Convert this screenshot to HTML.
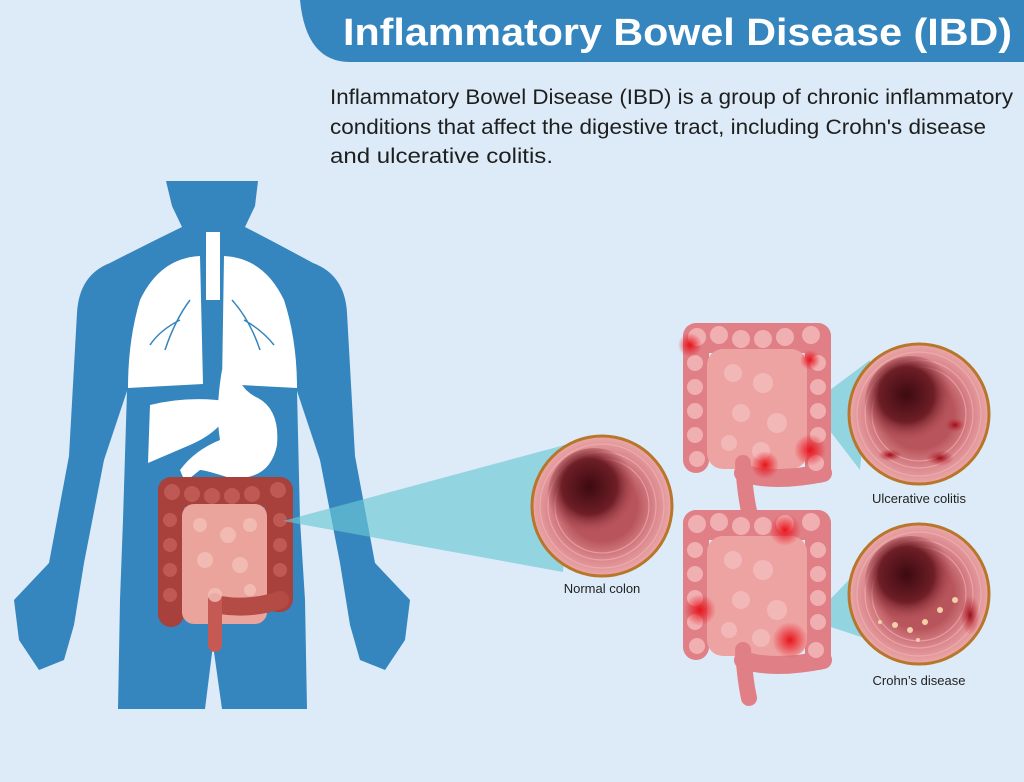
<!DOCTYPE html>
<html><head><meta charset="utf-8"><style>
html,body{margin:0;padding:0;background:#dcebf7;}
svg{display:block}
</style></head><body>
<svg width="1024" height="782" viewBox="0 0 1024 782" xmlns="http://www.w3.org/2000/svg">
<defs>
<radialGradient id="wall" cx="0.5" cy="0.5" r="0.5">
<stop offset="0.5" stop-color="#b8555c"/><stop offset="0.75" stop-color="#d9848a"/><stop offset="1" stop-color="#eba8a8"/></radialGradient>
<radialGradient id="lumen" cx="0.45" cy="0.42" r="0.5">
<stop offset="0" stop-color="#3d0a10"/><stop offset="0.6" stop-color="#6e1e26"/><stop offset="1" stop-color="#a9464f" stop-opacity="0"/></radialGradient>
<radialGradient id="ulc" cx="0.5" cy="0.5" r="0.5"><stop offset="0" stop-color="#9b0d18"/><stop offset="1" stop-color="#c0303a" stop-opacity="0"/></radialGradient>
<radialGradient id="hot" cx="0.5" cy="0.5" r="0.5"><stop offset="0" stop-color="#e8141c"/><stop offset="1" stop-color="#e8141c" stop-opacity="0"/></radialGradient>
<g id="rings" fill="none" stroke="#f3b8b8" stroke-width="1.2" opacity="0.6">
<circle r="62"/><circle r="54"/><circle r="47"/>
</g>
<g id="gut">
<rect x="0" y="0" width="148" height="30" rx="14" fill="#e07f86"/>
<rect x="0" y="0" width="26" height="150" rx="13" fill="#e07f86"/>
<rect x="122" y="0" width="26" height="160" rx="13" fill="#e07f86"/>
<rect x="24" y="26" width="100" height="120" rx="16" fill="#eea3a3"/>
<path d="M60 140 Q62 170 66 188" stroke="#e07f86" stroke-width="16" fill="none" stroke-linecap="round"/>
<path d="M60 150 Q90 160 140 150" stroke="#e07f86" stroke-width="18" fill="none" stroke-linecap="round"/>
<g fill="#f4bcbc" opacity="0.8">
<circle cx="14" cy="14" r="9"/><circle cx="36" cy="12" r="9"/><circle cx="58" cy="16" r="9"/><circle cx="80" cy="16" r="9"/><circle cx="102" cy="14" r="9"/><circle cx="128" cy="12" r="9"/>
<circle cx="12" cy="40" r="8"/><circle cx="12" cy="64" r="8"/><circle cx="12" cy="88" r="8"/><circle cx="12" cy="112" r="8"/><circle cx="14" cy="136" r="8"/>
<circle cx="135" cy="40" r="8"/><circle cx="135" cy="64" r="8"/><circle cx="135" cy="88" r="8"/><circle cx="135" cy="112" r="8"/><circle cx="133" cy="140" r="8"/>
<circle cx="50" cy="50" r="9"/><circle cx="80" cy="60" r="10"/><circle cx="58" cy="90" r="9"/><circle cx="94" cy="100" r="10"/><circle cx="46" cy="120" r="8"/><circle cx="78" cy="128" r="9"/>
</g>
</g>
</defs>
<rect width="1024" height="782" fill="#dcebf7"/>
<!-- header -->
<path d="M300 0 H1024 V62 H350 Q306 62 300 0 Z" fill="#3585be"/>
<text x="343" y="45" font-family="Liberation Sans, sans-serif" font-weight="bold" font-size="38" fill="#fff" textLength="669" lengthAdjust="spacingAndGlyphs">Inflammatory Bowel Disease (IBD)</text>
<g font-family="Liberation Sans, sans-serif" font-size="21" fill="#1e1e1e">
<text x="330" y="104" textLength="683" lengthAdjust="spacingAndGlyphs">Inflammatory Bowel Disease (IBD) is a group of chronic inflammatory</text>
<text x="330" y="134" textLength="656" lengthAdjust="spacingAndGlyphs">conditions that affect the digestive tract, including Crohn's disease</text>
<text x="330" y="163" textLength="223" lengthAdjust="spacingAndGlyphs">and ulcerative colitis.</text>
</g>
<!-- body -->
<path fill="#3585be" d="M166 181 H258 L255 206 L245 227 Q280 245 313 263 Q345 275 347 313 L355 456 L375 563 L410 600 L405 640 L385 670 L360 660 L350 625 L340 563 L320 460 L297 391 L300 520 L305 600 L307 709 H222 L213 645 L205 709 H118 L120 600 L123 520 L127 391 L104 460 L84 563 L74 625 L64 660 L39 670 L19 640 L14 600 L49 563 L69 456 L77 313 Q79 275 110 263 Q145 245 182 227 L172 206 Z"/>
<!-- lungs -->
<path fill="#fff" d="M200 256 Q160 258 140 300 Q128 340 128 388 L203 384 Z"/>
<path fill="#fff" d="M224 256 Q264 258 284 300 Q297 340 297 388 L222 384 Z"/>
<rect x="206" y="232" width="14" height="68" fill="#fff"/>
<path d="M190 300 Q175 320 165 350 M180 320 Q160 330 150 345 M232 300 Q250 320 260 350 M244 320 Q262 330 274 345" stroke="#3585be" stroke-width="1.5" fill="none"/>
<!-- liver & stomach -->
<path fill="#fff" d="M150 405 Q190 395 233 402 Q225 430 190 445 L148 463 Z"/>
<path fill="#fff" d="M222 370 L236 370 Q240 390 258 398 Q280 410 277 445 Q270 481 230 478 Q205 470 200 470 L185 482 L180 470 Q195 450 220 440 Q215 410 222 370 Z"/>
<!-- body intestine -->
<rect x="158" y="477" width="135" height="30" rx="14" fill="#a8403c"/>
<rect x="158" y="477" width="26" height="150" rx="13" fill="#a8403c"/>
<rect x="265" y="477" width="28" height="135" rx="13" fill="#a8403c"/>
<rect x="182" y="504" width="85" height="120" rx="12" fill="#eba49c"/>
<path d="M220 605 Q250 610 280 600" stroke="#b54b45" stroke-width="18" fill="none" stroke-linecap="round"/>
<path d="M215 600 L215 645" stroke="#c55a55" stroke-width="14" stroke-linecap="round"/>
<g fill="#c4605a" opacity="0.8">
<circle cx="172" cy="492" r="8"/><circle cx="192" cy="494" r="8"/><circle cx="212" cy="496" r="8"/><circle cx="232" cy="496" r="8"/><circle cx="252" cy="494" r="8"/><circle cx="278" cy="490" r="8"/>
<circle cx="170" cy="520" r="7"/><circle cx="170" cy="545" r="7"/><circle cx="170" cy="570" r="7"/><circle cx="170" cy="595" r="7"/>
<circle cx="280" cy="520" r="7"/><circle cx="280" cy="545" r="7"/><circle cx="280" cy="570" r="7"/>
</g>
<g fill="#f3c0b8" opacity="0.8">
<circle cx="200" cy="525" r="7"/><circle cx="228" cy="535" r="8"/><circle cx="250" cy="525" r="7"/><circle cx="205" cy="560" r="8"/><circle cx="240" cy="565" r="8"/><circle cx="215" cy="595" r="7"/><circle cx="250" cy="590" r="6"/>
</g>
<!-- beams -->
<polygon points="283,521 572,443 563,572" fill="#6cc7d6" opacity="0.65"/>
<polygon points="810,405 870,360 860,470" fill="#6cc7d6" opacity="0.65"/>
<polygon points="810,620 880,548 870,640" fill="#6cc7d6" opacity="0.65"/>
<!-- gut drawings -->
<use href="#gut" x="683" y="323"/>
<circle cx="810" cy="360" r="10" fill="url(#hot)"/><circle cx="810" cy="450" r="16" fill="url(#hot)"/><circle cx="765" cy="465" r="14" fill="url(#hot)"/><circle cx="690" cy="345" r="12" fill="url(#hot)"/>
<use href="#gut" x="683" y="510"/>
<circle cx="785" cy="530" r="16" fill="url(#hot)"/><circle cx="700" cy="610" r="16" fill="url(#hot)"/><circle cx="790" cy="640" r="18" fill="url(#hot)"/>
<!-- circles -->
<circle cx="602" cy="506" r="70" fill="url(#wall)" stroke="#b8762a" stroke-width="3"/>
<use href="#rings" x="602" y="506"/>
<circle cx="594" cy="494" r="46" fill="url(#lumen)"/>
<circle cx="919" cy="414" r="70" fill="url(#wall)" stroke="#b8762a" stroke-width="3"/>
<use href="#rings" x="919" y="414"/>
<circle cx="911" cy="402" r="46" fill="url(#lumen)"/>
<ellipse cx="890" cy="455" rx="12" ry="6" fill="url(#ulc)"/><ellipse cx="940" cy="458" rx="14" ry="8" fill="url(#ulc)"/><ellipse cx="955" cy="425" rx="10" ry="7" fill="url(#ulc)"/>
<circle cx="919" cy="594" r="70" fill="url(#wall)" stroke="#b8762a" stroke-width="3"/>
<use href="#rings" x="919" y="594"/>
<circle cx="911" cy="582" r="46" fill="url(#lumen)"/>
<g fill="#f0d0a8"><circle cx="895" cy="625" r="3"/><circle cx="910" cy="630" r="3"/><circle cx="925" cy="622" r="3"/><circle cx="940" cy="610" r="3"/><circle cx="880" cy="622" r="2"/><circle cx="918" cy="640" r="2"/><circle cx="955" cy="600" r="3"/></g>
<ellipse cx="970" cy="615" rx="10" ry="20" fill="url(#ulc)"/>
<g font-family="Liberation Sans, sans-serif" font-size="13" fill="#222" text-anchor="middle">
<text x="602" y="593">Normal colon</text>
<text x="919" y="503">Ulcerative colitis</text>
<text x="919" y="685">Crohn’s disease</text>
</g>
</svg>
</body></html>
